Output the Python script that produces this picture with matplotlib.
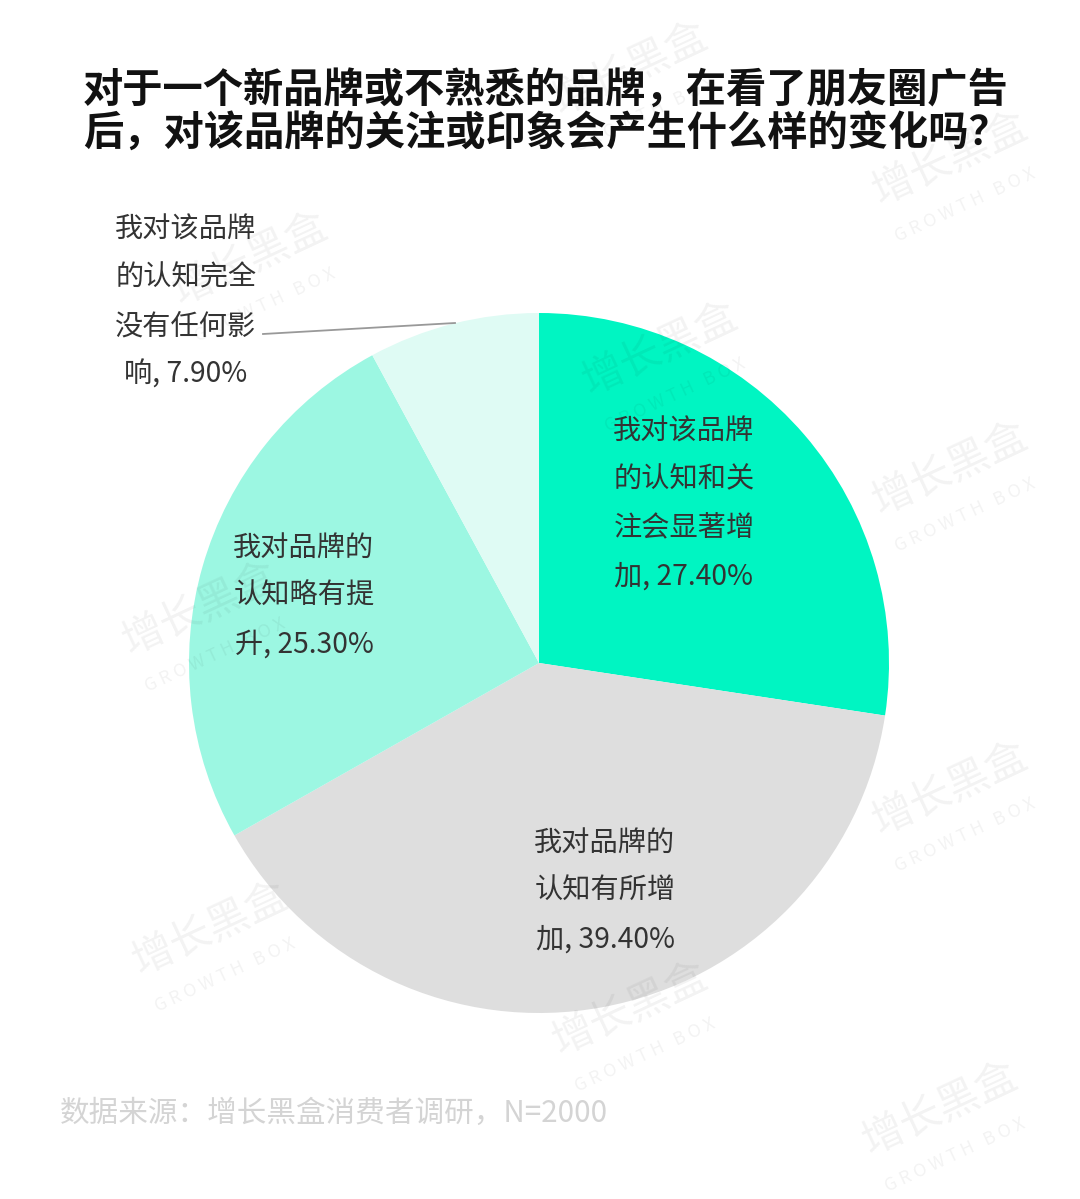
import matplotlib
matplotlib.use("Agg")
import matplotlib.pyplot as plt

plt.rcParams['font.family'] = ['Noto Sans CJK SC', 'DejaVu Sans']

title = "对于一个新品牌或不熟悉的品牌，在看了朋友圈广告\n后，对该品牌的关注或印象会产生什么样的变化吗？"
categories = ["我对该品牌\n的认知和关\n注会显著增\n加", "我对品牌的\n认知有所增\n加", "我对品牌的\n认知略有提\n升", "我对该品牌\n的认知完全\n没有任何影\n响"]
values = [27.40, 39.40, 25.30, 7.90]
colors = ["#00F5C2", "#DEDEDE", "#9CF7E2", "#DFFBF4"]
source = "数据来源：增长黑盒消费者调研，N=2000"

W, H = 1080, 1199
fig = plt.figure(figsize=(W / 100, H / 100), dpi=100)
ax = fig.add_axes([0, 0, 1, 1])

def Y(y):
    return H - y

cx, cy, r = 539, 663, 350
ax.pie(values, colors=colors, startangle=90, counterclock=False,
       center=(cx, Y(cy)), radius=r, frame=True,
       wedgeprops=dict(linewidth=0))
ax.set_xlim(0, W)
ax.set_ylim(0, H)
ax.axis('off')

labels = [f"{c}, {v:.2f}%" for c, v in zip(categories, values)]
label_pos = [(684, 504), (605, 891), (304, 596), (186, 302)]
for lab, (x, y) in zip(labels, label_pos):
    ax.text(x, Y(y), lab, ha='center', va='center', fontsize=20.3,
            color='#333333', linespacing=1.8, multialignment='center')

# leader line for smallest slice
ax.plot([263, 455], [Y(334), Y(323)], color='#999999', lw=1.3)

fig.text(83 / W, 1 - 70 / H, title, ha='left', va='top', fontsize=29,
         fontweight='bold', color='#111111', linespacing=1.05)

fig.text(60 / W, 1 - 1113 / H, source, ha='left', va='center', fontsize=21.3,
         color='#D4D4D4')

# faint watermarks
wm = [(630, 70), (950, 160), (250, 260), (660, 350), (950, 470), (200, 610),
      (950, 790), (210, 930), (630, 1010), (940, 1110)]
for x, y in wm:
    ax.text(x, Y(y), "增长黑盒", rotation=25, ha='center', va='center',
            fontsize=30, color='#000000', alpha=0.05, zorder=5)
    ax.text(x + 15, Y(y + 45), "G R O W T H   B O X", rotation=25, ha='center',
            va='center', fontsize=13, color='#000000', alpha=0.05, zorder=5)

fig.savefig("out.png", dpi=100, facecolor='white')
